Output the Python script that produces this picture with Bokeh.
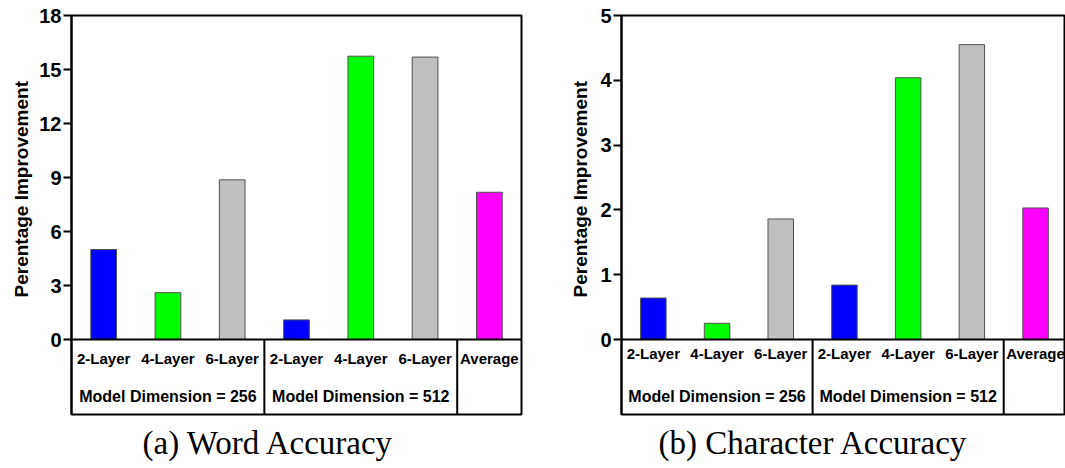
import math
from bokeh.plotting import figure
from bokeh.layouts import row
from bokeh.models import Range1d, FixedTicker, Title, ColumnDataSource
from bokeh.core.properties import value
from bokeh.embed import file_html
from bokeh.resources import INLINE

# ---- data ----
categories = ["2-Layer", "4-Layer", "6-Layer", "2-Layer", "4-Layer", "6-Layer", "Average"]
groups = ["Model Dimension = 256", "Model Dimension = 512"]
bar_colors = ["#0000FF", "#00FF00", "#C0C0C0", "#0000FF", "#00FF00", "#C0C0C0", "#FF00FF"]
word_accuracy = [5.0, 2.6, 8.87, 1.09, 15.74, 15.69, 8.18]
char_accuracy = [0.64, 0.25, 1.86, 0.84, 4.04, 4.55, 2.03]
word_ticks = [0, 3, 6, 9, 12, 15, 18]
char_ticks = [0, 1, 2, 3, 4, 5]
captions = ["(a) Word Accuracy", "(b) Character Accuracy"]
y_title = "Perentage Improvement"

SANS = "Liberation Sans"
SERIF = "Liberation Serif"


def make_panel(vals, ticks, caption, width, border_left, border_right, x_end,
               px_per_unit, label_row_px, model_row_px, cap_offset, title_standoff):
    ymax = ticks[-1]
    table_px = 75
    ymin = -table_px / px_per_unit
    p = figure(width=width, height=468, output_backend="svg", toolbar_location=None,
               x_range=Range1d(0, x_end), y_range=Range1d(ymin, ymax),
               x_axis_location=None, min_border_left=border_left,
               min_border_right=border_right, min_border_top=15, min_border_bottom=54)
    p.grid.visible = False
    p.outline_line_color = "black"
    p.outline_line_width = 2
    p.background_fill_color = "white"
    p.border_fill_color = "white"

    ya = p.yaxis[0]
    ya.ticker = FixedTicker(ticks=ticks)
    ya.minor_tick_line_color = None
    ya.major_tick_in = 0
    ya.major_tick_out = 8
    ya.major_tick_line_width = 2
    ya.axis_line_width = 2
    ya.major_label_standoff = 2
    ya.major_label_text_font = SANS
    ya.major_label_text_font_style = "bold"
    ya.major_label_text_font_size = "20px"
    ya.major_label_text_color = "black"

    xs = [i + 0.5 for i in range(len(categories))]
    src = ColumnDataSource(dict(x=xs, top=vals, color=bar_colors))
    p.vbar(x="x", top="top", bottom=0, width=0.4, fill_color="color",
           line_color="#505050", line_width=1, source=src)

    n = len(categories)
    p.segment(x0=[0], y0=[0], x1=[n], y1=[0], line_color="black", line_width=2)
    p.segment(x0=[3, 6], y0=[0, 0], x1=[3, 6], y1=[ymin, ymin], line_color="black", line_width=2)

    label_y = -label_row_px / px_per_unit
    model_y = -model_row_px / px_per_unit
    p.text(x=xs, y=[label_y] * n, text=categories, text_font=value(SANS),
           text_font_style="bold", text_font_size="15px", text_align="center",
           text_baseline="middle", text_color="black")
    p.text(x=[1.5, 4.5], y=[model_y] * 2, text=groups, text_font=value(SANS),
           text_font_style="bold", text_font_size="16px", text_align="center",
           text_baseline="middle", text_color="black")

    p.add_layout(Title(text=y_title, align="left", offset=117, text_font=SANS,
                       text_font_style="bold", text_font_size="19px",
                       text_color="black", standoff=title_standoff), "left")
    p.add_layout(Title(text=caption, align="left", offset=cap_offset, text_font=SERIF,
                       text_font_style="normal", text_font_size="33px",
                       text_color="black", standoff=16), "below")
    return p


p1 = make_panel(word_accuracy, word_ticks, captions[0], width=540, border_left=71,
                border_right=19, x_end=7, px_per_unit=18.0, label_row_px=19,
                model_row_px=57, cap_offset=71, title_standoff=10)
p2 = make_panel(char_accuracy, char_ticks, captions[1], width=525, border_left=81,
                border_right=0, x_end=444 / 63.7, px_per_unit=64.8, label_row_px=14,
                model_row_px=57, cap_offset=37, title_standoff=14)

layout = row(p1, p2)
open("out.html", "w").write(file_html(layout, INLINE))
